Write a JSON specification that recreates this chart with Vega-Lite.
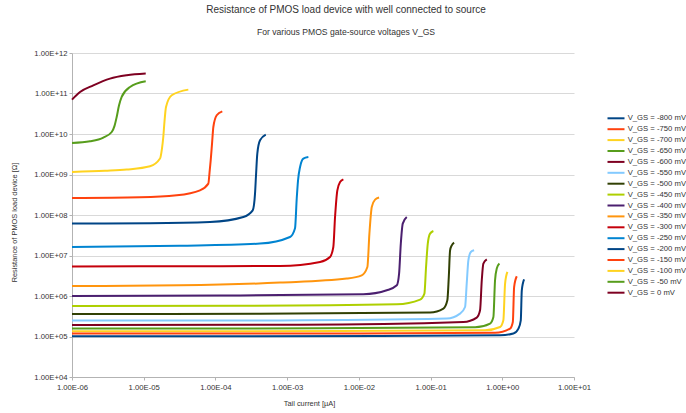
{
  "$schema": "https://vega.github.io/schema/vega-lite/v6.json",
  "width": 502,
  "height": 324,
  "autosize": {"type": "none"},
  "padding": {"left": 72, "top": 53, "right": 112, "bottom": 36},
  "background": "white",
  "title": {
    "text": "Resistance of PMOS load device with well connected to source",
    "subtitle": "For various PMOS gate-source voltages V_GS",
    "font": "Liberation Sans",
    "fontSize": 10,
    "fontWeight": "normal",
    "color": "#333333",
    "subtitleFont": "Liberation Sans",
    "subtitleFontSize": 8.6,
    "subtitleColor": "#333333",
    "subtitlePadding": 13.5,
    "offset": 12,
    "anchor": "middle",
    "dx": 23
  },
  "config": {
    "view": {"stroke": null},
    "font": "Liberation Sans"
  },
  "data": {
    "values": [
      {"s":"V_GS = 0 mV","x":1e-6,"y":7.06e10},{"s":"V_GS = 0 mV","x":1.294e-6,"y":1.089e11},{"s":"V_GS = 0 mV","x":1.982e-6,"y":1.592e11},{"s":"V_GS = 0 mV","x":3.388e-6,"y":2.333e11},{"s":"V_GS = 0 mV","x":5.794e-6,"y":2.812e11},{"s":"V_GS = 0 mV","x":1.067e-5,"y":3.097e11},
      {"s":"V_GS = -50 mV","x":1e-6,"y":6.0e9},{"s":"V_GS = -50 mV","x":1.782e-6,"y":6.607e9},{"s":"V_GS = -50 mV","x":2.735e-6,"y":8.147e9},{"s":"V_GS = -50 mV","x":3.581e-6,"y":1.119e10},{"s":"V_GS = -50 mV","x":3.917e-6,"y":1.585e10},{"s":"V_GS = -50 mV","x":4.198e-6,"y":2.63e10},{"s":"V_GS = -50 mV","x":4.529e-6,"y":5.117e10},{"s":"V_GS = -50 mV","x":4.932e-6,"y":8.204e10},{"s":"V_GS = -50 mV","x":6.442e-6,"y":1.445e11},{"s":"V_GS = -50 mV","x":1.067e-5,"y":1.995e11},
      {"s":"V_GS = -100 mV","x":1e-6,"y":1.153e9},{"s":"V_GS = -100 mV","x":2.884e-6,"y":1.233e9},{"s":"V_GS = -100 mV","x":5.794e-6,"y":1.321e9},{"s":"V_GS = -100 mV","x":1.225e-5,"y":1.592e9},{"s":"V_GS = -100 mV","x":1.687e-5,"y":2.472e9},{"s":"V_GS = -100 mV","x":1.799e-5,"y":4.436e9},{"s":"V_GS = -100 mV","x":1.875e-5,"y":8.433e9},{"s":"V_GS = -100 mV","x":1.95e-5,"y":2.061e10},{"s":"V_GS = -100 mV","x":2.046e-5,"y":4.645e10},{"s":"V_GS = -100 mV","x":2.46e-5,"y":9.036e10},{"s":"V_GS = -100 mV","x":4.188e-5,"y":1.247e11},
      {"s":"V_GS = -150 mV","x":1e-6,"y":2.63e8},{"s":"V_GS = -150 mV","x":8.87e-6,"y":2.735e8},{"s":"V_GS = -150 mV","x":2.884e-5,"y":3.062e8},{"s":"V_GS = -150 mV","x":6.095e-5,"y":4.074e8},{"s":"V_GS = -150 mV","x":7.962e-5,"y":5.957e8},{"s":"V_GS = -150 mV","x":8.279e-5,"y":1.132e9},{"s":"V_GS = -150 mV","x":8.59e-5,"y":2.244e9},{"s":"V_GS = -150 mV","x":8.974e-5,"y":5.888e9},{"s":"V_GS = -150 mV","x":9.354e-5,"y":1.489e10},{"s":"V_GS = -150 mV","x":1.042e-4,"y":2.897e10},{"s":"V_GS = -150 mV","x":1.247e-4,"y":3.631e10},
      {"s":"V_GS = -200 mV","x":1e-6,"y":6.138e7},{"s":"V_GS = -200 mV","x":1.225e-5,"y":6.237e7},{"s":"V_GS = -200 mV","x":8.414e-5,"y":6.714e7},{"s":"V_GS = -200 mV","x":2.449e-4,"y":8.933e7},{"s":"V_GS = -200 mV","x":3.311e-4,"y":1.306e8},{"s":"V_GS = -200 mV","x":3.565e-4,"y":3.373e8},{"s":"V_GS = -200 mV","x":3.681e-4,"y":9.55e8},{"s":"V_GS = -200 mV","x":3.837e-4,"y":3.281e9},{"s":"V_GS = -200 mV","x":4.188e-4,"y":6.982e9},{"s":"V_GS = -200 mV","x":5.035e-4,"y":9.66e9},
      {"s":"V_GS = -250 mV","x":1e-6,"y":1.622e7},{"s":"V_GS = -250 mV","x":3.177e-5,"y":1.738e7},{"s":"V_GS = -250 mV","x":4.188e-4,"y":1.968e7},{"s":"V_GS = -250 mV","x":1.096e-3,"y":2.864e7},{"s":"V_GS = -250 mV","x":1.288e-3,"y":4.699e7},{"s":"V_GS = -250 mV","x":1.361e-3,"y":2.588e8},{"s":"V_GS = -250 mV","x":1.419e-3,"y":7.194e8},{"s":"V_GS = -250 mV","x":1.514e-3,"y":1.531e9},{"s":"V_GS = -250 mV","x":1.683e-3,"y":2.472e9},{"s":"V_GS = -250 mV","x":1.977e-3,"y":2.704e9},
      {"s":"V_GS = -300 mV","x":1e-6,"y":5.37e6},{"s":"V_GS = -300 mV","x":6.095e-5,"y":5.433e6},{"s":"V_GS = -300 mV","x":7.962e-4,"y":5.508e6},{"s":"V_GS = -300 mV","x":2.877e-3,"y":6.918e6},{"s":"V_GS = -300 mV","x":3.963e-3,"y":9.183e6},{"s":"V_GS = -300 mV","x":4.406e-3,"y":1.622e7},{"s":"V_GS = -300 mV","x":4.656e-3,"y":8.933e7},{"s":"V_GS = -300 mV","x":5.012e-3,"y":4.074e8},{"s":"V_GS = -300 mV","x":5.47e-3,"y":6.531e8},{"s":"V_GS = -300 mV","x":6.081e-3,"y":7.603e8},
      {"s":"V_GS = -350 mV","x":1e-6,"y":1.766e6},{"s":"V_GS = -350 mV","x":3.206e-5,"y":1.837e6},{"s":"V_GS = -350 mV","x":7.962e-4,"y":2.143e6},{"s":"V_GS = -350 mV","x":6.776e-3,"y":2.692e6},{"s":"V_GS = -350 mV","x":1.096e-2,"y":3.243e6},{"s":"V_GS = -350 mV","x":1.315e-2,"y":5.2e6},{"s":"V_GS = -350 mV","x":1.403e-2,"y":3.475e7},{"s":"V_GS = -350 mV","x":1.514e-2,"y":1.578e8},{"s":"V_GS = -350 mV","x":1.683e-2,"y":2.399e8},{"s":"V_GS = -350 mV","x":1.914e-2,"y":2.692e8},
      {"s":"V_GS = -400 mV","x":1e-6,"y":1.0e6},{"s":"V_GS = -400 mV","x":1.159e-4,"y":1.023e6},{"s":"V_GS = -400 mV","x":1.156e-2,"y":1.102e6},{"s":"V_GS = -400 mV","x":2.449e-2,"y":1.384e6},{"s":"V_GS = -400 mV","x":3.381e-2,"y":1.837e6},{"s":"V_GS = -400 mV","x":3.639e-2,"y":3.573e6},{"s":"V_GS = -400 mV","x":3.846e-2,"y":1.968e7},{"s":"V_GS = -400 mV","x":4.093e-2,"y":6.138e7},{"s":"V_GS = -400 mV","x":4.656e-2,"y":8.933e7},
      {"s":"V_GS = -450 mV","x":1e-6,"y":5.662e5},{"s":"V_GS = -450 mV","x":2.203e-4,"y":5.728e5},{"s":"V_GS = -450 mV","x":3.381e-2,"y":6.237e5},{"s":"V_GS = -450 mV","x":7.145e-2,"y":8.147e5},{"s":"V_GS = -450 mV","x":8.204e-2,"y":1.146e6},{"s":"V_GS = -450 mV","x":8.65e-2,"y":5.2e6},{"s":"V_GS = -450 mV","x":9.141e-2,"y":1.968e7},{"s":"V_GS = -450 mV","x":9.84e-2,"y":3.475e7},{"s":"V_GS = -450 mV","x":1.094e-1,"y":4.027e7},
      {"s":"V_GS = -500 mV","x":1e-6,"y":3.597e5},{"s":"V_GS = -500 mV","x":4.188e-4,"y":3.631e5},{"s":"V_GS = -500 mV","x":9.84e-2,"y":3.89e5},{"s":"V_GS = -500 mV","x":1.51e-1,"y":4.887e5},{"s":"V_GS = -500 mV","x":1.714e-1,"y":7.834e5},{"s":"V_GS = -500 mV","x":1.795e-1,"y":2.944e6},{"s":"V_GS = -500 mV","x":1.871e-1,"y":1.343e7},{"s":"V_GS = -500 mV","x":1.977e-1,"y":1.786e7},{"s":"V_GS = -500 mV","x":2.128e-1,"y":2.084e7},
      {"s":"V_GS = -550 mV","x":1e-6,"y":2.472e5},{"s":"V_GS = -550 mV","x":7.962e-4,"y":2.5e5},{"s":"V_GS = -550 mV","x":1.683e-1,"y":2.767e5},{"s":"V_GS = -550 mV","x":2.576e-1,"y":3.673e5},{"s":"V_GS = -550 mV","x":3.027e-1,"y":5.346e5},{"s":"V_GS = -550 mV","x":3.192e-1,"y":2.023e6},{"s":"V_GS = -550 mV","x":3.365e-1,"y":7.603e6},{"s":"V_GS = -550 mV","x":3.639e-1,"y":1.219e7},{"s":"V_GS = -550 mV","x":4.046e-1,"y":1.343e7},
      {"s":"V_GS = -600 mV","x":1e-6,"y":1.923e5},{"s":"V_GS = -600 mV","x":1.514e-3,"y":1.945e5},{"s":"V_GS = -600 mV","x":2.864e-1,"y":2.28e5},{"s":"V_GS = -600 mV","x":4.406e-1,"y":2.931e5},{"s":"V_GS = -600 mV","x":4.898e-1,"y":4.436e5},{"s":"V_GS = -600 mV","x":5.176e-1,"y":2.443e6},{"s":"V_GS = -600 mV","x":5.445e-1,"y":6.31e6},{"s":"V_GS = -600 mV","x":6.081e-1,"y":8.054e6},
      {"s":"V_GS = -650 mV","x":1e-6,"y":1.567e5},{"s":"V_GS = -650 mV","x":2.877e-3,"y":1.589e5},{"s":"V_GS = -650 mV","x":4.178e-1,"y":1.687e5},{"s":"V_GS = -650 mV","x":6.761e-1,"y":2.084e5},{"s":"V_GS = -650 mV","x":7.516e-1,"y":3.027e5},{"s":"V_GS = -650 mV","x":7.925e-1,"y":2.443e6},{"s":"V_GS = -650 mV","x":8.375e-1,"y":4.753e6},{"s":"V_GS = -650 mV","x":9.12e-1,"y":6.31e6},
      {"s":"V_GS = -700 mV","x":1e-6,"y":1.343e5},{"s":"V_GS = -700 mV","x":5.47e-3,"y":1.358e5},{"s":"V_GS = -700 mV","x":5.754e-1,"y":1.422e5},{"s":"V_GS = -700 mV","x":9.311e-1,"y":1.718e5},{"s":"V_GS = -700 mV","x":1.035,"y":2.512e5},{"s":"V_GS = -700 mV","x":1.094,"y":2.023e6},{"s":"V_GS = -700 mV","x":1.178,"y":3.917e6},
      {"s":"V_GS = -750 mV","x":1e-6,"y":1.18e5},{"s":"V_GS = -750 mV","x":1.04e-2,"y":1.194e5},{"s":"V_GS = -750 mV","x":7.943e-1,"y":1.233e5},{"s":"V_GS = -750 mV","x":1.285,"y":1.567e5},{"s":"V_GS = -750 mV","x":1.403,"y":2.28e5},{"s":"V_GS = -750 mV","x":1.462,"y":1.667e6},{"s":"V_GS = -750 mV","x":1.592,"y":3.062e6},
      {"s":"V_GS = -800 mV","x":1e-6,"y":1.012e5},{"s":"V_GS = -800 mV","x":1.977e-2,"y":1.024e5},{"s":"V_GS = -800 mV","x":9.311e-1,"y":1.072e5},{"s":"V_GS = -800 mV","x":1.429,"y":1.18e5},{"s":"V_GS = -800 mV","x":1.679,"y":1.567e5},{"s":"V_GS = -800 mV","x":1.811,"y":2.512e5},{"s":"V_GS = -800 mV","x":1.871,"y":1.384e6},{"s":"V_GS = -800 mV","x":2.014,"y":2.582e6}
    ]
  },
  "mark": {"type": "line", "strokeWidth": 2, "interpolate": "monotone"},
  "encoding": {
    "x": {
      "field": "x",
      "type": "quantitative",
      "scale": {"type": "log", "domain": [1e-6, 10], "nice": false},
      "axis": {
        "values": [1e-6, 1e-5, 1e-4, 1e-3, 1e-2, 1e-1, 1, 10],
        "labelExpr": "'1.00E' + (round(log(datum.value)/LN10) < 0 ? '-' : '+') + format(abs(round(log(datum.value)/LN10)), '02d')",
        "grid": false,
        "domainColor": "#b3b3b3",
        "tickColor": "#b3b3b3",
        "tickSize": 3,
        "labelPadding": 3,
        "labelFontSize": 7.7,
        "labelColor": "#333333",
        "labelFont": "Liberation Sans",
        "labelFlush": false,
        "labelOverlap": false,
        "title": "Tail current [µA]",
        "titleFont": "Liberation Sans",
        "titleFontSize": 7.4,
        "titleFontWeight": "normal",
        "titleColor": "#333333",
        "titleX": 237,
        "titleY": 26.5,
        "titleBaseline": "middle"
      }
    },
    "y": {
      "field": "y",
      "type": "quantitative",
      "scale": {"type": "log", "domain": [1e4, 1e12], "nice": false},
      "axis": {
        "values": [1e4, 1e5, 1e6, 1e7, 1e8, 1e9, 1e10, 1e11, 1e12],
        "labelExpr": "'1.00E' + (round(log(datum.value)/LN10) < 0 ? '-' : '+') + format(abs(round(log(datum.value)/LN10)), '02d')",
        "grid": true,
        "gridColor": "#d9d9d9",
        "domainColor": "#b3b3b3",
        "tickColor": "#b3b3b3",
        "tickSize": 3,
        "labelPadding": 2,
        "labelFontSize": 7.7,
        "labelColor": "#333333",
        "labelFont": "Liberation Sans",
        "labelOverlap": false,
        "title": "Resistance of PMOS load device [Ω]",
        "titleFont": "Liberation Sans",
        "titleFontSize": 7.4,
        "titleFontWeight": "normal",
        "titleColor": "#333333",
        "titleX": -58,
        "titleY": 169,
        "titleBaseline": "middle"
      }
    },
    "color": {
      "field": "s",
      "type": "nominal",
      "scale": {
        "domain": ["V_GS = -800 mV","V_GS = -750 mV","V_GS = -700 mV","V_GS = -650 mV","V_GS = -600 mV","V_GS = -550 mV","V_GS = -500 mV","V_GS = -450 mV","V_GS = -400 mV","V_GS = -350 mV","V_GS = -300 mV","V_GS = -250 mV","V_GS = -200 mV","V_GS = -150 mV","V_GS = -100 mV","V_GS = -50 mV","V_GS = 0 mV"],
        "range": ["#004586","#ff420e","#ffd320","#579d1c","#7e0021","#83caff","#314004","#aecf00","#4b1f6f","#ff950e","#c5000b","#0084d1","#004586","#ff420e","#ffd320","#579d1c","#7e0021"]
      },
      "legend": {
        "orient": "none",
        "legendX": 538,
        "legendY": 59.3,
        "title": null,
        "padding": 0,
        "symbolType": "M-1.7,0H1.7",
        "symbolSize": 100,
        "symbolStrokeWidth": 2,
        "labelFontSize": 7.7,
        "labelFont": "Liberation Sans",
        "labelColor": "#333333",
        "labelOffset": 5.7,
        "rowPadding": 0.9
      }
    }
  }
}
